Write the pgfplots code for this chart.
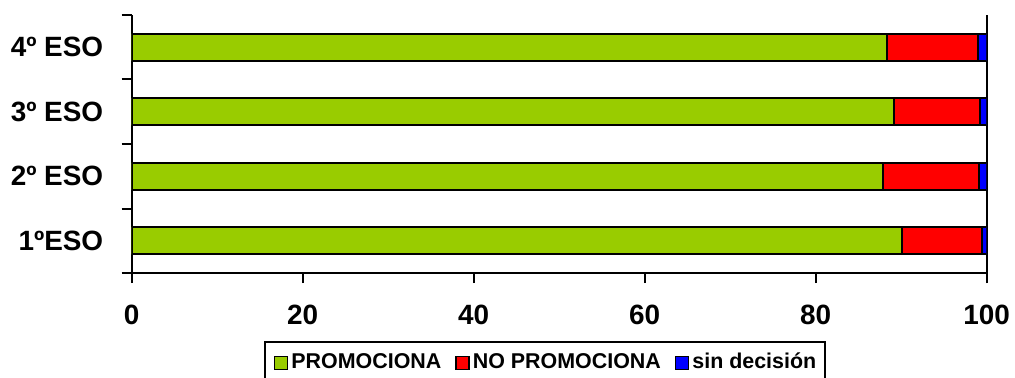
\documentclass[border=0pt]{standalone}
\usepackage{fontspec}
\setmainfont{Liberation Sans}
\usepackage{pgfplots}
\pgfplotsset{compat=1.18}
\definecolor{cgreen}{HTML}{99CC00}
\definecolor{cred}{HTML}{FF0000}
\definecolor{cblue}{HTML}{0000FF}
\begin{document}
\begin{tikzpicture}
\begin{axis}[
 name=ax,
 scale only axis,
 width=855bp, height=258bp,
 xbar stacked,
 bar width=0.42,
 xmin=0, xmax=100,
 ymin=-0.5, ymax=3.5,
 axis x line*=bottom, axis y line*=left,
 axis line style={line width=2bp, -},
 xtick={0,20,...,100},
 ytick={-0.5,0.5,1.5,2.5,3.5},
 yticklabels={},
 extra y ticks={0,1,2,3},
 extra y tick labels={1ºESO,2º ESO,3º ESO,4º ESO},
 extra y tick style={major tick length=0pt, yticklabel style={xshift=-25bp}},
 extra x ticks={100},
 extra x tick labels={},
 extra x tick style={grid=major, major grid style={black, line width=2bp}},
 tick align=outside,
 major tick length=10bp,
 tick style={line width=2bp, black},
 /pgf/number format/assume math mode=true,
 ticklabel style={font=\fontsize{28}{30}\selectfont\bfseries},
 xticklabel style={yshift=-19bp},
 legend columns=3,
 legend style={at={(0.1547,-0.2628)}, anchor=north west, draw=black, line width=2bp,
   font=\fontsize{21.5}{24}\selectfont\bfseries,
   inner xsep=9bp, inner ysep=11.5bp,
   nodes={inner sep=0pt, text height=15.5bp, text depth=4bp},
   /tikz/every odd column/.append style={column sep=3bp},
   /tikz/every even column/.append style={column sep=14bp}},
 legend image code/.code={\draw[#1, line width=1.5bp] (0bp,-6.5bp) rectangle (13bp,6.5bp);},
]
\addplot[fill=cgreen, draw=black, line width=2bp] coordinates {(90.1,0) (87.9,1) (89.2,2) (88.3,3)};
\addplot[fill=cred, draw=black, line width=2bp] coordinates {(9.4,0) (11.2,1) (10.0,2) (10.7,3)};
\addplot[fill=cblue, draw=black, line width=2bp] coordinates {(0.5,0) (0.9,1) (0.8,2) (1.0,3)};
\legend{PROMOCIONA, NO PROMOCIONA, sin decisión}
\end{axis}
\pgfresetboundingbox
\path ([xshift=-131.7bp, yshift=-105bp]ax.south west) rectangle ([xshift=28.3bp, yshift=15bp]ax.north east);
\end{tikzpicture}
\end{document}
